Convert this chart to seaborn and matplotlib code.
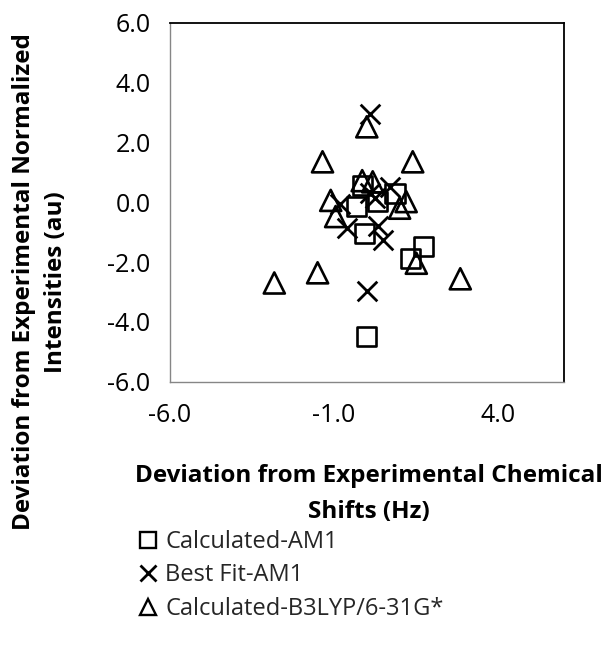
import matplotlib
matplotlib.use("Agg")
import matplotlib.pyplot as plt
from matplotlib.lines import Line2D
import numpy as np
import pandas as pd
import seaborn as sns

# Deviations (calculated - experimental): chemical shift (Hz) vs normalized intensity (au)
am1_x = [-0.14, -0.32, 0.32, 0.86, -0.06, 1.72, 1.34, 0.00]
am1_y = [0.55, -0.15, 0.02, 0.30, -1.04, -1.47, -1.88, -4.50]

fit_x = [0.10, 0.70, 0.25, 0.10, -0.82, -0.61, 0.35, 0.50, 0.02]
fit_y = [2.95, 0.52, 0.13, 0.32, -0.05, -0.85, -0.78, -1.28, -2.96]

b3lyp_x = [0.00, -1.35, 1.40, -0.14, 0.18, -1.10, -0.95, 1.20, 1.00, 1.51, -1.50, -2.82, 2.85]
b3lyp_y = [2.52, 1.35, 1.35, 0.72, 0.68, 0.06, -0.48, 0.02, -0.20, -2.04, -2.36, -2.70, -2.56]

series_names = ["Calculated-AM1", "Best Fit-AM1", "Calculated-B3LYP/6-31G*"]
x_ticks = [-6.0, -1.0, 4.0]
y_ticks = [-6.0, -4.0, -2.0, 0.0, 2.0, 4.0, 6.0]

df = pd.concat([
    pd.DataFrame({"dx": am1_x, "dy": am1_y, "series": series_names[0]}),
    pd.DataFrame({"dx": fit_x, "dy": fit_y, "series": series_names[1]}),
    pd.DataFrame({"dx": b3lyp_x, "dy": b3lyp_y, "series": series_names[2]}),
], ignore_index=True)

sns.set_theme(style="white")
plt.rcParams["font.family"] = ["Open Sans", "DejaVu Sans"]

fig = plt.figure(figsize=(6.06, 6.49), dpi=100)
ax = fig.add_axes([170 / 606, 1 - 381.7 / 649, (563.6 - 170) / 606, (381.7 - 22.7) / 649])

marker_map = {series_names[0]: "s", series_names[1]: "x", series_names[2]: "^"}
size_map = {series_names[0]: 190, series_names[1]: 200, series_names[2]: 230}
for name in series_names:
    sub = df[df["series"] == name]
    m = marker_map[name]
    if m == "x":
        sns.scatterplot(data=sub, x="dx", y="dy", marker=m, s=size_map[name],
                        color="black", linewidth=2.0, ax=ax, legend=False, zorder=3)
    else:
        sns.scatterplot(data=sub, x="dx", y="dy", marker=m, s=size_map[name],
                        facecolor="none", edgecolor="black", linewidth=1.9,
                        ax=ax, legend=False, zorder=3)

ax.set_xlim(-6, 6)
ax.set_ylim(-6, 6)
ax.set_xticks(x_ticks)
ax.set_yticks(y_ticks)
ax.set_xticklabels([f"{v:.1f}" for v in x_ticks])
ax.set_yticklabels([f"{v:.1f}" for v in y_ticks])
ax.set_xlabel("")
ax.set_ylabel("")
ax.tick_params(axis="both", which="major", direction="out", length=7, width=1.0,
               color="#868686", labelsize=18, labelcolor="black")
ax.tick_params(axis="x", pad=8)
ax.tick_params(axis="y", pad=7)

for side in ["left", "bottom"]:
    ax.spines[side].set_color("#868686")
    ax.spines[side].set_linewidth(1.0)
for side in ["top", "right"]:
    ax.spines[side].set_color("black")
    ax.spines[side].set_linewidth(1.3)
ax.grid(False)

fig.text(369 / 606, 1 - 494 / 649,
         "Deviation from Experimental Chemical\nShifts (Hz)",
         ha="center", va="center", fontsize=17.5, fontweight="bold",
         linespacing=1.65, color="black")
fig.text(40 / 606, 1 - 282 / 649,
         "Deviation from Experimental Normalized\nIntensities (au)",
         ha="center", va="center", rotation=90, fontsize=17.5, fontweight="bold",
         linespacing=1.45, color="black")

handles = [
    Line2D([], [], linestyle="none", marker="s", markersize=11, markerfacecolor="none",
           markeredgecolor="black", markeredgewidth=1.7),
    Line2D([], [], linestyle="none", marker="x", markersize=11, color="black",
           markeredgewidth=2.0),
    Line2D([], [], linestyle="none", marker="^", markersize=11, markerfacecolor="none",
           markeredgecolor="black", markeredgewidth=1.7),
]
fig.legend(handles, series_names, loc="upper left",
           bbox_to_anchor=(138 / 606, 1 - 530 / 649), frameon=False,
           fontsize=17, handlelength=0.85, handletextpad=0.3,
           labelspacing=0.4, borderpad=0.0, borderaxespad=0.0)

fig.savefig("out.png", dpi=100)
